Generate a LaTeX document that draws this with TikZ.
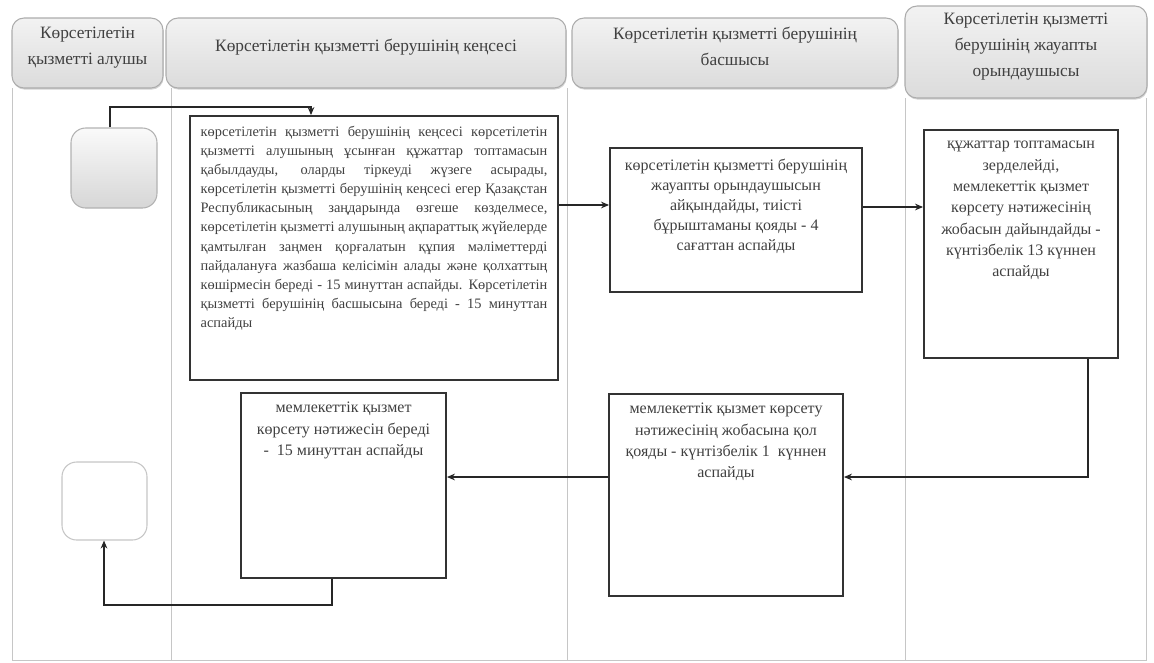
\documentclass[tikz,border=0pt]{standalone}
\usepackage{fontspec}
\setmainfont{Liberation Serif}
\usetikzlibrary{fit,arrows.meta,shadows}

\begin{document}
\begin{tikzpicture}[x=0.75pt,y=-0.75pt,
  lane/.style={draw=gray!45, line width=0.6pt},
  head/.style={draw=gray!65, line width=0.8pt, rounded corners=9pt,
    top color=gray!10, bottom color=gray!28, inner sep=0pt,
    drop shadow={shadow xshift=0.5pt, shadow yshift=-1.2pt, opacity=0.35},
    text=black!75, font=\fontsize{13}{19.5}\selectfont, align=center},
  stepbox/.style={draw=black!80, line width=1.4pt, inner sep=0pt},
  boxtext/.style={text=black!75, font=\fontsize{12}{16}\selectfont,
    align=center, inner sep=0pt, anchor=north},
  arr/.style={draw=black!85, line width=1.1pt, -{Stealth[length=6pt,width=5pt]}},
  term/.style={rounded corners=11pt, inner sep=0pt, line width=0.8pt}
]
\useasboundingbox (0,0) rectangle (1154,662);

% swimlane frame
\draw[lane] (12,88) -- (12,660) -- (1146,660) -- (1146,98);
\draw[lane] (171,88) -- (171,660);
\draw[lane] (567,88) -- (567,660);
\draw[lane] (905,98) -- (905,660);

% lane headers
\node (h1) [head, fit={(12,18) (163,88)}] {Көрсетілетін\\қызметті алушы};
\node (h2) [head, fit={(166,18) (566,88)}] {Көрсетілетін қызметті берушінің кеңсесі};
\node (h3) [head, fit={(572,18) (898,88)}] {Көрсетілетін қызметті берушінің\\басшысы};
\node (h4) [head, fit={(905,6) (1147,98)}] {Көрсетілетін қызметті\\берушінің жауапты\\орындаушысы};

% start and end terminals
\node (s1) [term, draw=gray!60, top color=gray!4, bottom color=gray!32, fit={(71,128) (157,208)}] {};
\node (s2) [term, draw=gray!45, fill=white, fit={(62,462) (147,540)}] {};

% process boxes
\node (b1) [stepbox, fit={(190,116) (558,380)}] {};
\node (b2) [stepbox, fit={(610,148) (862,292)}] {};
\node (b3) [stepbox, fit={(924,130) (1118,358)}] {};
\node (b4) [stepbox, fit={(609,394) (843,596)}] {};
\node (b5) [stepbox, fit={(241,393) (446,578)}] {};

% box texts
\node (t1) [boxtext, align=justify, text width=260pt,
  font=\fontsize{10.8}{14.3}\selectfont]
  at ([yshift=-11*0.75pt]b1.north) {\hyphenpenalty=10000 \hbadness=10000
  көрсетілетін қызметті берушінің кеңсесі көрсетілетін\linebreak
  қызметті алушының ұсынған құжаттар топтамасын\linebreak
  қабылдауды, оларды тіркеуді жүзеге асырады,\linebreak
  көрсетілетін қызметті берушінің кеңсесі егер Қазақстан\linebreak
  Республикасының заңдарында өзгеше көзделмесе,\linebreak
  көрсетілетін қызметті алушының ақпараттық жүйелерде\linebreak
  қамтылған заңмен қорғалатын құпия мәліметтерді\linebreak
  пайдалануға жазбаша келісімін алады және қолхаттың\linebreak
  көшірмесін береді - 15 минуттан аспайды. Көрсетілетін\linebreak
  қызметті берушінің басшысына береді - 15 минуттан\linebreak
  аспайды};
\node (t2) [boxtext, font=\fontsize{12}{15}\selectfont] at ([yshift=-12*0.75pt]b2.north) {көрсетілетін қызметті берушінің\\жауапты орындаушысын\\айқындайды, тиісті\\бұрыштаманы қояды - 4\\сағаттан аспайды};
\node (t3) [boxtext] at ([yshift=-12*0.75pt]b3.north) {құжаттар топтамасын\\зерделейді,\\мемлекеттік қызмет\\көрсету нәтижесінің\\жобасын дайындайды -\\күнтізбелік 13 күннен\\аспайды};
\node (t4) [boxtext] at ([yshift=-10*0.75pt]b4.north) {мемлекеттік қызмет көрсету\\нәтижесінің жобасына қол\\қояды - күнтізбелік 1\ \ күннен\\аспайды};
\node (t5) [boxtext] at ([yshift=-10*0.75pt]b5.north) {мемлекеттік қызмет\\көрсету нәтижесін береді\\-\ \ 15 минуттан аспайды};

% connector bends
\coordinate (c1a) at (110,107);
\coordinate (c1b) at (311,107);
\coordinate (c2) at (0,205);
\coordinate (c3) at (0,207);
\coordinate (c4) at (1088,477);
\coordinate (c6a) at (332,605);
\coordinate (c6b) at (104,605);

% connectors
\draw[arr] (c1a |- s1.north) -- (c1a) -- (c1b) -- (c1b |- b1.north);
\draw[arr] (b1.east |- c2) -- (b2.west |- c2);
\draw[arr] (b2.east |- c3) -- (b3.west |- c3);
\draw[arr] (c4 |- b3.south) -- (c4) -- (b4.east |- c4);
\draw[arr] (b4.west |- c4) -- (b5.east |- c4);
\draw[arr] (c6a |- b5.south) -- (c6a) -- (c6b) -- (c6b |- s2.south);
\end{tikzpicture}
\end{document}
